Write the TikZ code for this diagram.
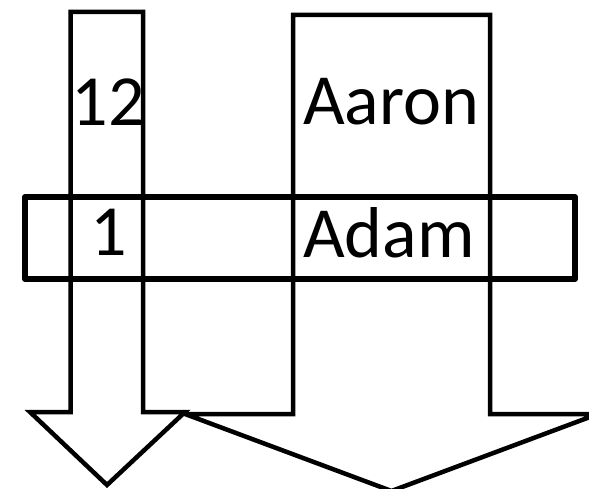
\documentclass[tikz,border=0pt]{standalone}
\usepackage{fontspec}
\setmainfont{Carlito}
\usetikzlibrary{positioning}
\tikzset{
  every picture/.style={x=1pt, y=-1pt, color=black},
  shaft/.style={draw=black, line width=4.5pt},
  band/.style={draw=black, line width=6pt, line join=round},
  lbl/.style={font=\fontsize{72}{72}\selectfont, inner sep=0pt, anchor=base},
}

\begin{document}
\begin{tikzpicture}
  \clip (0,0) rectangle (589,489);
  % the two down arrows
  \draw[shaft] (293,15) -- (490,15) -- (490,414) -- (598,414) -- (391.5,491) -- (185,414) -- (293,414) -- cycle;
  \draw[shaft] (70.5,12) -- (143,12) -- (143,412) -- (185,412) -- (107,485) -- (30,412) -- (70.5,412) -- cycle;
  % the band across them
  \draw[band] (25,197) rectangle (575,279);
  \node[lbl] (num) at (108,126) {12};
  \node[lbl] (one) at (109,255) {1};
  \node[lbl] (aaron) at (391,125) {Aaron};
  \node[lbl] (adam) at (389,258) {Adam};
\end{tikzpicture}
\end{document}
